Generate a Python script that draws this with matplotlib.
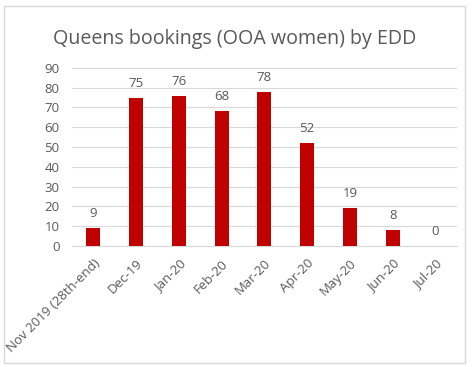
import matplotlib.pyplot as plt
from matplotlib.patches import Rectangle

categorias = ['Nov 2019 (28th-end)', 'Dec-19', 'Jan-20', 'Feb-20', 'Mar-20',
              'Apr-20', 'May-20', 'Jun-20', 'Jul-20']
reservas = [9, 75, 76, 68, 78, 52, 19, 8, 0]

plt.rcParams['font.family'] = ['Open Sans', 'DejaVu Sans']
cinza = '#595959'

fig = plt.figure(figsize=(4.73, 3.67), dpi=100)
ax = fig.add_axes([0.152, 0.330, 0.814, 0.485])

# moldura clara em volta do gráfico
fig.patches.append(Rectangle((0.008, 0.01), 0.975, 0.975, transform=fig.transFigure,
                             fill=False, edgecolor='#d9d9d9', linewidth=1))

x = range(len(categorias))
barras = ax.bar(x, reservas, width=0.33, color='#C00000', zorder=3)
for xi, v in zip(x, reservas):
    ax.text(xi, v + 4, str(v), ha='center', va='bottom', fontsize=9.5, color=cinza)

ax.set_ylim(0, 90)
ax.set_xlim(-0.5, len(categorias) - 0.5)
ax.set_yticks(range(0, 91, 10))
ax.yaxis.grid(True, color='#d9d9d9', linewidth=0.8, zorder=0)
for lado in ['top', 'right', 'left']:
    ax.spines[lado].set_visible(False)
ax.spines['bottom'].set_color('#d9d9d9')
ax.tick_params(axis='both', length=0, colors=cinza, labelsize=9.5)
ax.tick_params(axis='y', pad=9)
ax.tick_params(axis='x', pad=8)
ax.set_xticks(list(x))
ax.set_xticklabels(categorias, rotation=45, ha='right', rotation_mode='anchor')

fig.text(0.497, 0.895, 'Queens bookings (OOA women) by EDD', ha='center', va='center',
         fontsize=14.1, color=cinza)

fig.savefig('out.png', dpi=100)
